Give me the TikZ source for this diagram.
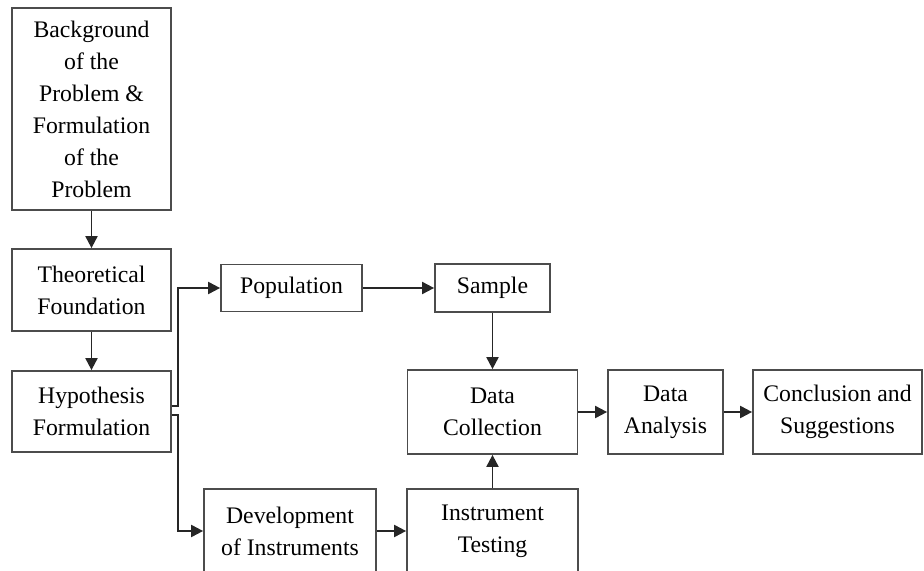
\documentclass[tikz,border=0pt]{standalone}
\usepackage{fontspec}
\setmainfont{Liberation Serif}
\usepackage{tikz}
\usetikzlibrary{arrows.meta}

\tikzset{
  blk/.style={draw=black!70, line width=1pt, align=center, inner sep=0pt,
    font=\fontsize{13.5}{18.2}\selectfont},
  flow/.style={draw=black!85, line width=1.1pt, -{Triangle[length=0.24cm,width=0.24cm]}}
}

\begin{document}
\begin{tikzpicture}[x=0.02cm, y=-0.02cm]
    \useasboundingbox (0,0) rectangle (924,571);
    \node[blk, minimum width=3.18cm, minimum height=4.04cm] (bg) at (91.5,109)
      {Background\\of the\\Problem \&\\Formulation\\of the\\Problem};
    \node[blk, minimum width=3.18cm, minimum height=1.64cm] (theo) at (91.5,290) {Theoretical\\Foundation};
    \node[blk, minimum width=3.18cm, minimum height=1.62cm] (hyp) at (91.5,411.5) {Hypothesis\\Formulation};
    \node[blk, minimum width=2.82cm, minimum height=0.94cm] (pop) at (291.5,288) {Population};
    \node[blk, minimum width=2.30cm, minimum height=0.96cm] (smp) at (492.5,288) {Sample};
    \node[blk, minimum width=3.40cm, minimum height=1.68cm] (dc) at (492.5,412) {Data\\Collection};
    \node[blk, minimum width=2.30cm, minimum height=1.68cm] (da) at (665.5,412) {Data\\Analysis};
    \node[blk, minimum width=3.38cm, minimum height=1.68cm] (cs) at (837.5,412) {Conclusion and\\Suggestions};
    \node[blk, minimum width=3.44cm, minimum height=1.68cm] (dev) at (290,531) {Development\\of Instruments};
    \node[blk, minimum width=3.42cm, minimum height=1.68cm] (tst) at (492.5,531) {Instrument\\Testing};
    \draw[flow] (bg) -- (theo);
    \draw[flow] (theo) -- (hyp);
    \draw[flow] ([yshift=0.11cm]hyp.east) -- ++(0.13cm,0) |- (pop.west);
    \draw[flow] ([yshift=-0.07cm]hyp.east) -- ++(0.12cm,0) |- (dev.west);
    \draw[flow] (pop) -- (smp);
    \draw[flow] (smp) -- (dc);
    \draw[flow] (dev) -- (tst);
    \draw[flow] (tst) -- (dc);
    \draw[flow] (dc) -- (da);
    \draw[flow] (da) -- (cs);
  \end{tikzpicture}
\end{document}
